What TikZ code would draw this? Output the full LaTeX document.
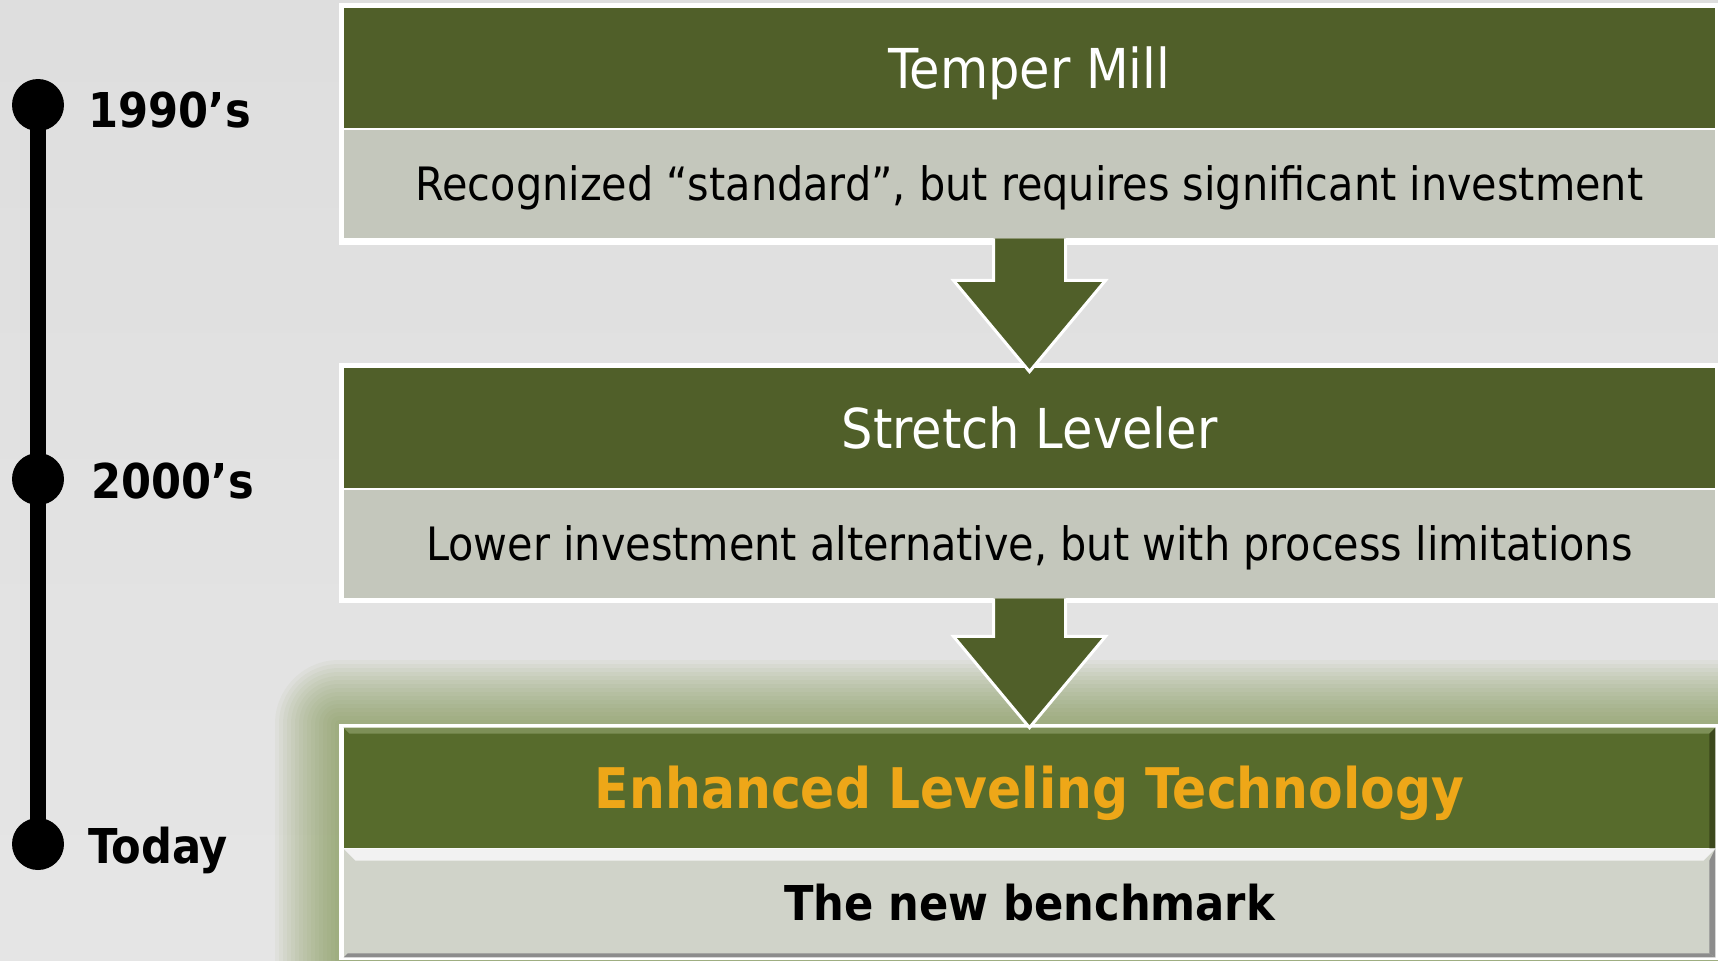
\documentclass[tikz,border=0pt]{standalone}
\usepackage{fontspec}
\setmainfont{DejaVu Sans Condensed}
\usetikzlibrary{calc,positioning}
\definecolor{olivebar}{RGB}{80,95,41}
\definecolor{olivebright}{RGB}{87,107,44}
\definecolor{olivelight}{RGB}{125,143,87}
\definecolor{olivedark}{RGB}{60,72,28}
\definecolor{sagebody}{RGB}{196,199,188}
\definecolor{sagelight}{RGB}{208,211,201}
\definecolor{glowgreen}{RGB}{120,145,70}
\definecolor{goldtext}{RGB}{238,167,24}

\tikzset{
	titlebar/.style={fill=olivebar, text=white, minimum width=685.5pt, minimum height=60pt, inner sep=0pt,
		text height=20pt, text depth=0pt, font=\fontsize{27.5pt}{33pt}\selectfont},
	notebar/.style={fill=sagebody, text=black, minimum width=685.5pt, minimum height=54pt, inner sep=0pt,
		text height=16.8pt, text depth=0pt, font=\fontsize{23pt}{28pt}\selectfont},
	yeardot/.style={circle, fill=black, minimum size=26pt, inner sep=0pt},
	yearlabel/.style={anchor=base west, inner sep=0pt, font=\bfseries\fontsize{24pt}{29pt}\selectfont},
	downarrow/.style={fill=olivebar, draw=white, line width=1.5pt, line join=miter},
}

\begin{document}
\begin{tikzpicture}[x=0.5pt, y=-0.5pt]
	\useasboundingbox (0,0) rectangle (1718,960);
	\shade[top color=black!13, bottom color=black!10] (0,0) rectangle (1718,960);
%
	% glow round the last box
	\foreach \g in {1,...,16}
		\fill[glowgreen, opacity=0.055, rounded corners={\g*2pt}] ($(339,724)+(-\g*4,-\g*4)$) rectangle ($(1718,960)+(\g*4,\g*4)$);
	\fill[white] (339,3) rectangle (1718,245);
	\fill[white] (339,363) rectangle (1718,603);
	\fill[white] (339,724) rectangle (1718,960);
%
	\node[titlebar] (hd1) at (1029.5,68) {Temper Mill};
	\node[notebar] (bd1) at (1029.5,184) {Recognized “standard”, but requires significant investment};
	\node[titlebar] (hd2) at (1029.5,428) {Stretch Leveler};
	\node[notebar] (bd2) at (1029.5,544) {Lower investment alternative, but with process limitations};
	\node[titlebar, fill=olivebright, text=goldtext, font=\bfseries\fontsize{28pt}{33pt}\selectfont] (hd3) at (1029.5,788) {Enhanced Leveling Technology};
	\node[notebar, fill=sagelight] (bd3) at (1029.5,903) {};
%
	% bevel of the last box
	\fill[olivelight] (hd3.north west) -- (hd3.north east) -- ($(hd3.north east)+(-6,6)$) -- ($(hd3.north west)+(6,6)$) -- cycle;
	\fill[olivedark] (hd3.north east) -- (hd3.south east) -- ($(hd3.south east)+(-6,0)$) -- ($(hd3.north east)+(-6,6)$) -- cycle;
	\fill[black!5] (bd3.north west) -- (bd3.north east) -- ($(bd3.north east)+(-12,12)$) -- ($(bd3.north west)+(12,12)$) -- cycle;
	\fill[black!45] (bd3.north east) -- (bd3.south east) -- ($(bd3.south east)+(-6,-4)$) -- ($(bd3.north east)+(-6,12)$) -- cycle;
	\fill[black!45] (bd3.south west) -- (bd3.south east) -- ($(bd3.south east)+(-6,-4)$) -- ($(bd3.south west)+(4,-4)$) -- cycle;
	\node[inner sep=0pt, text height=17.5pt, text depth=0pt, font=\bfseries\fontsize{24pt}{29pt}\selectfont] (bm) at (bd3) {The new benchmark};
%
	\draw[downarrow] ($(bd1.south)+(-36,0)$) -- ($(bd1.south)+(-36,42)$) -- ($(bd1.south)+(-76,42)$)
		-- ($(hd2.north)+(0,4)$) -- ($(bd1.south)+(76,42)$) -- ($(bd1.south)+(36,42)$) -- ($(bd1.south)+(36,0)$);
	\draw[downarrow] ($(bd2.south)+(-36,0)$) -- ($(bd2.south)+(-36,38)$) -- ($(bd2.south)+(-76,38)$)
		-- ($(hd3.north)+(0,0)$) -- ($(bd2.south)+(76,38)$) -- ($(bd2.south)+(36,38)$) -- ($(bd2.south)+(36,0)$);
%
	\node[yeardot] (d1) at (38,105) {};
	\node[yeardot] (d2) at (38,479) {};
	\node[yeardot] (d3) at (38,844) {};
	\draw[line width=8pt] (d1.center) -- (d3.center);
	\node[yearlabel] (y1) at (88,127) {1990’s};
	\node[yearlabel] (y2) at (91,498) {2000’s};
	\node[yearlabel] (y3) at (88,863) {Today};
\end{tikzpicture}
\end{document}
